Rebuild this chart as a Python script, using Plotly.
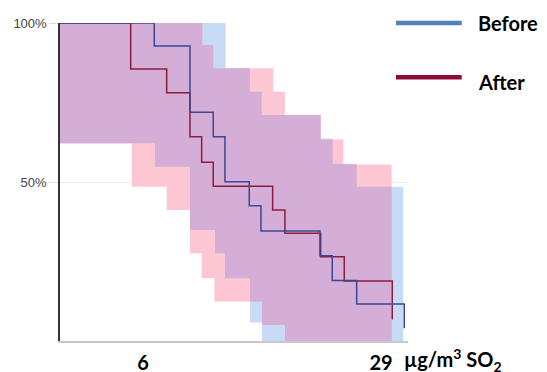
import plotly.graph_objects as go

# ---------------- data (x: µg/m3 SO2, y: % ) ----------------
x_start = -2.02

before_times = [7.09, 10.54, 12.79, 13.92, 16.27, 17.40, 23.10, 24.29, 26.65, 31.25]
before_surv = [100, 92.8, 71.9, 64.2, 50.1, 42.5, 34.6, 26.8, 19.0, 11.6, 4.0]

after_times = [4.81, 8.29, 10.54, 11.67, 12.79, 18.53, 19.72, 23.17, 25.45, 30.09]
after_surv = [100, 85.5, 78.1, 64.2, 56.2, 48.7, 41.2, 33.9, 26.5, 18.9, 6.8]

before_upper_breaks = [13.99, 16.34, 17.47, 23.17, 24.33, 26.65]
before_upper = [100, 85.8, 78.4, 71.1, 63.7, 55.7, 48.5]
before_lower_breaks = [7.16, 10.54, 12.96, 13.92, 16.34, 17.50]
before_lower = [62.2, 54.8, 34.9, 27.6, 19.7, 5.8, 0]
before_band_end = 31.15

after_upper_breaks = [11.73, 12.79, 18.59, 19.72, 23.17, 25.36]
after_upper = [100, 93.1, 85.8, 78.4, 71.1, 63.4, 55.5]
after_lower_breaks = [4.91, 8.29, 10.54, 11.67, 12.90, 17.50, 19.72]
after_lower = [62.2, 48.5, 41.2, 27.6, 19.7, 12.4, 5.0, 0]
after_band_end = 30.03

x_tick_vals = [6, 29]
x_tick_text = ["6", "29"]
y_tick_vals = [50, 100]
y_tick_text = ["50%", "100%"]


# ---------------- helpers ----------------
def step_val(breaks, vals, x):
    i = 0
    while i < len(breaks) and breaks[i] <= x:
        i += 1
    return vals[i]


def step_path(start, breaks, vals, end):
    xs, ys = [start], [vals[0]]
    for b, v0, v1 in zip(breaks, vals[:-1], vals[1:]):
        xs += [b, b]
        ys += [v0, v1]
    xs.append(end)
    ys.append(vals[-1])
    return xs, ys


def band_polygon(start, ub, uv, lb, lv, end):
    ux, uy = step_path(start, ub, uv, end)
    lx, ly = step_path(start, lb, lv, end)
    return ux + lx[::-1], uy + ly[::-1]


# intersection of the two bands
end_common = min(before_band_end, after_band_end)
grid = sorted(set([x_start, end_common] + before_upper_breaks + before_lower_breaks
                  + after_upper_breaks + after_lower_breaks))
grid = [g for g in grid if g <= end_common]
iux, iuy, ilx, ily = [], [], [], []
for a, b in zip(grid[:-1], grid[1:]):
    m = (a + b) / 2
    up = min(step_val(before_upper_breaks, before_upper, m),
             step_val(after_upper_breaks, after_upper, m))
    lo = max(step_val(before_lower_breaks, before_lower, m),
             step_val(after_lower_breaks, after_lower, m))
    iux += [a, b]; iuy += [up, up]
    ilx += [a, b]; ily += [lo, lo]
inter_x = iux + ilx[::-1]
inter_y = iuy + ily[::-1]

bx, by = band_polygon(x_start, before_upper_breaks, before_upper,
                      before_lower_breaks, before_lower, before_band_end)
ax, ay = band_polygon(x_start, after_upper_breaks, after_upper,
                      after_lower_breaks, after_lower, after_band_end)

fig = go.Figure()
fig.add_trace(go.Scatter(x=bx, y=by, fill="toself", fillcolor="#c7dbf6",
                         line=dict(width=0), mode="lines", hoverinfo="skip", showlegend=False))
fig.add_trace(go.Scatter(x=ax, y=ay, fill="toself", fillcolor="#fcc6d2",
                         line=dict(width=0), mode="lines", hoverinfo="skip", showlegend=False))
fig.add_trace(go.Scatter(x=inter_x, y=inter_y, fill="toself", fillcolor="#d4aed6",
                         line=dict(width=0), mode="lines", hoverinfo="skip", showlegend=False))

fig.add_trace(go.Scatter(x=[x_start] + after_times, y=after_surv, mode="lines",
                         line=dict(color="#8c1c3c", width=1.5, shape="hv"),
                         name="After", showlegend=False))
fig.add_trace(go.Scatter(x=[x_start] + before_times, y=before_surv, mode="lines",
                         line=dict(color="#3b4796", width=1.5, shape="hv"),
                         name="Before", showlegend=False))

# page has an 8px body margin: figure is 539x364, plot area at page x 60..408, y 23..341
PW = 348.0
PH = 318.0
def px2x(px):
    return (px - 60) / PW
def py2y(py):
    return (341 - py) / PH

legend_items = [("Before", "#4f81bd", 23, 23), ("After", "#8b0a3a", 77.3, 82)]
for label, col, ly, ty in legend_items:
    fig.add_shape(type="line", xref="paper", yref="paper",
                  x0=px2x(396), x1=px2x(461.7), y0=py2y(ly), y1=py2y(ly),
                  line=dict(color=col, width=4.5))
    fig.add_annotation(xref="paper", yref="paper", x=px2x(476), y=py2y(ty),
                       xanchor="left", yanchor="middle", showarrow=False,
                       text="<b>%s</b>" % label,
                       font=dict(family="Lato", size=20, color="#000000"))

fig.add_annotation(xref="paper", yref="paper", x=px2x(402), y=py2y(360),
                   xanchor="left", yanchor="middle", showarrow=False,
                   text="<b>µg/m<sup>3</sup> SO<sub>2</sub></b>",
                   font=dict(family="Lato", size=20, color="#000000"))

fig.update_layout(
    width=539, height=364,
    margin=dict(l=52, r=139, t=15, b=31, autoexpand=False),
    paper_bgcolor="white", plot_bgcolor="white",
    showlegend=False,
    xaxis=dict(range=[x_start, 31.61], tickvals=x_tick_vals, ticktext=x_tick_text,
               showgrid=False, zeroline=False, showline=True, linecolor="#c8c8c8",
               linewidth=1.5, ticks="", ticklabelstandoff=3, automargin=False,
               tickfont=dict(family="Lato", size=20, color="#000000", weight="bold")),
    yaxis=dict(range=[0, 100], tickvals=y_tick_vals, ticktext=y_tick_text,
               showgrid=True, gridcolor="#ececec", gridwidth=1, zeroline=False,
               showline=True, linecolor="#333333", linewidth=1.5, automargin=False,
               ticks="outside", ticklen=9, tickcolor="#dddddd",
               tickfont=dict(family="Liberation Sans", size=13, color="#444444")),
)

fig.write_html("out.html")
